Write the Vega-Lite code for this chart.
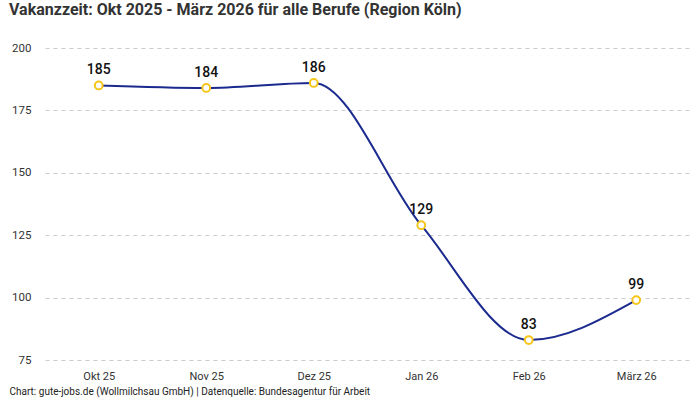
{
  "$schema": "https://vega.github.io/schema/vega-lite/v6.json",
  "width": 700,
  "height": 400,
  "autosize": {"type": "fit", "contains": "padding"},
  "padding": {"left": 9, "top": 2, "right": 10, "bottom": 4},
  "background": "white",
  "config": {
    "font": "Roboto",
    "view": {"stroke": null}
  },
  "title": {
    "text": "Vakanzzeit: Okt 2025 - März 2026 für alle Berufe (Region Köln)",
    "anchor": "start",
    "frame": "group",
    "offset": 24,
    "fontSize": 16,
    "fontWeight": "bold",
    "color": "#333333",
    "dx": -36
  },
  "data": {
    "values": [
      {"monat": "Okt 25", "tage": 185},
      {"monat": "Nov 25", "tage": 184},
      {"monat": "Dez 25", "tage": 186},
      {"monat": "Jan 26", "tage": 129},
      {"monat": "Feb 26", "tage": 83},
      {"monat": "März 26", "tage": 99}
    ]
  },
  "encoding": {
    "x": {
      "field": "monat",
      "type": "ordinal",
      "sort": null,
      "scale": {"type": "point", "padding": 0.5},
      "title": "Chart: gute-jobs.de (Wollmilchsau GmbH) | Datenquelle: Bundesagentur für Arbeit",
      "axis": {
        "labelAngle": 0,
        "domain": false,
        "ticks": false,
        "labelPadding": 10,
        "labelFontSize": 11,
        "labelColor": "#333333",
        "titleFontSize": 10,
        "titleFontWeight": "normal",
        "titleColor": "#222222",
        "titleAnchor": "start",
        "titleAlign": "left",
        "titleX": -36,
        "titlePadding": 5
      }
    },
    "y": {
      "field": "tage",
      "type": "quantitative",
      "title": null,
      "scale": {"domain": [75, 200], "nice": false, "zero": false},
      "axis": {
        "values": [75, 100, 125, 150, 175, 200],
        "domain": false,
        "ticks": false,
        "labelPadding": 14,
        "labelFontSize": 11.5,
        "labelColor": "#333333",
        "gridColor": "#cccccc",
        "gridDash": [4, 4],
        "gridWidth": 1
      }
    }
  },
  "layer": [
    {
      "mark": {"type": "line", "interpolate": "monotone", "color": "#1b2a8e", "strokeWidth": 2}
    },
    {
      "mark": {"type": "point", "filled": true, "fill": "white", "stroke": "#f5c518", "strokeWidth": 2, "size": 60, "opacity": 1}
    },
    {
      "mark": {"type": "text", "dy": -15, "fontSize": 14, "fontWeight": 500, "color": "#111111"},
      "encoding": {"text": {"field": "tage", "type": "quantitative"}}
    }
  ]
}
